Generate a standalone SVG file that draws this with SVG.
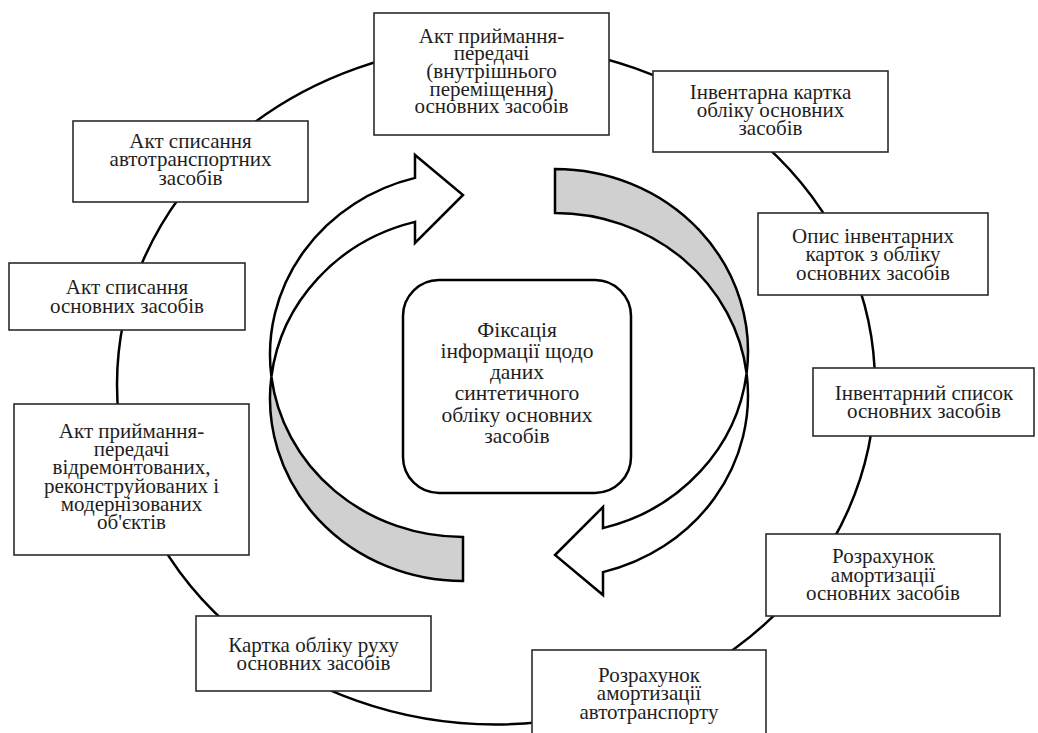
<svg xmlns="http://www.w3.org/2000/svg" width="1038" height="733" viewBox="0 0 1038 733">
<style>
.box{fill:#fff;stroke:#2b2b2b;stroke-width:1.6}
.t{font-family:'Liberation Serif','Times New Roman',serif;font-size:21px;fill:#1e1e1e;text-anchor:middle}
.tc{font-family:'Liberation Serif','Times New Roman',serif;font-size:21.5px;fill:#1e1e1e;text-anchor:middle}
.ring{fill:none;stroke:#000;stroke-width:2.5}
.arrW{fill:#fff;stroke:#000;stroke-width:2.5;stroke-linejoin:miter}
.arrG{fill:#d0d0d0;stroke:#000;stroke-width:2.5;stroke-linejoin:miter}
</style>
<rect width="1038" height="733" fill="#fff"/>
<g id="connectors">
<ellipse class="ring" cx="496" cy="384.5" rx="379" ry="340"/>
</g>
<g id="arrows">
<g id="arrow-right">
<path class="arrG" d="M555,169 A193,182.4 0 0 1 746.6,373.4 A193,182.4 0 0 0 555,213 Z"/>
<path class="arrW" d="M746.6,373.4 A193,182.4 0 0 1 603,528.1 L603,507 L555,555 L603,595 L603,572.1 A193,182.4 0 0 0 746.6,373.4 Z"/>
</g>
<g id="arrow-left" transform="rotate(180 509 375)">
<path class="arrG" d="M555,169 A193,182.4 0 0 1 746.6,373.4 A193,182.4 0 0 0 555,213 Z"/>
<path class="arrW" d="M746.6,373.4 A193,182.4 0 0 1 603,528.1 L603,507 L555,555 L603,595 L603,572.1 A193,182.4 0 0 0 746.6,373.4 Z"/>
</g>
</g>
<g id="center">
<rect x="403" y="280" width="228" height="213" rx="36" ry="36" fill="#fff" stroke="#000" stroke-width="2.5"/>
<text class="tc"><tspan x="517" y="336.5">Фіксація</tspan><tspan x="517" y="357.8">інформації щодо</tspan><tspan x="517" y="379.1">даних</tspan><tspan x="517" y="400.4">синтетичного</tspan><tspan x="517" y="421.7">обліку основних</tspan><tspan x="517" y="443">засобів</tspan></text>
</g>
<g id="n-top">
<rect class="box" x="374" y="13" width="235" height="122"/>
<text class="t"><tspan x="491.5" y="42.7">Акт приймання-</tspan><tspan x="491.5" y="60.3">передачі</tspan><tspan x="491.5" y="78">(внутрішнього</tspan><tspan x="491.5" y="95.6">переміщення)</tspan><tspan x="491.5" y="113.3">основних засобів</tspan></text>
</g>
<g id="n-card">
<rect class="box" x="653" y="71" width="235" height="81"/>
<text class="t"><tspan x="770.5" y="99.3">Інвентарна картка</tspan><tspan x="770.5" y="117.2">обліку основних</tspan><tspan x="770.5" y="135">засобів</tspan></text>
</g>
<g id="n-opys">
<rect class="box" x="758" y="213" width="230" height="82"/>
<text class="t"><tspan x="873" y="242.7">Опис інвентарних</tspan><tspan x="873" y="261.2">карток з обліку</tspan><tspan x="873" y="279.7">основних засобів</tspan></text>
</g>
<g id="n-spysok">
<rect class="box" x="813" y="368" width="221" height="68"/>
<text class="t"><tspan x="924" y="400">Інвентарний список</tspan><tspan x="924" y="418.3">основних засобів</tspan></text>
</g>
<g id="n-amort">
<rect class="box" x="766" y="534" width="234" height="82"/>
<text class="t"><tspan x="883" y="563.3">Розрахунок</tspan><tspan x="883" y="581.5">амортизації</tspan><tspan x="883" y="599.8">основних засобів</tspan></text>
</g>
<g id="n-amort-auto">
<rect class="box" x="532" y="650" width="234" height="95"/>
<text class="t"><tspan x="649" y="681.7">Розрахунок</tspan><tspan x="649" y="700.3">амортизації</tspan><tspan x="649" y="719">автотранспорту</tspan></text>
</g>
<g id="n-rukh">
<rect class="box" x="196" y="616" width="235" height="75"/>
<text class="t"><tspan x="313.5" y="651.7">Картка обліку руху</tspan><tspan x="313.5" y="669.5">основних засобів</tspan></text>
</g>
<g id="n-remont">
<rect class="box" x="14" y="404" width="235" height="151"/>
<text class="t"><tspan x="131.5" y="437.7">Акт приймання-</tspan><tspan x="131.5" y="456">передачі</tspan><tspan x="131.5" y="474.3">відремонтованих,</tspan><tspan x="131.5" y="492.6">реконструйованих і</tspan><tspan x="131.5" y="510.9">модернізованих</tspan><tspan x="131.5" y="529.2">об'єктів</tspan></text>
</g>
<g id="n-spys-os">
<rect class="box" x="9" y="263" width="236" height="67"/>
<text class="t"><tspan x="127" y="294.3">Акт списання</tspan><tspan x="127" y="312.7">основних засобів</tspan></text>
</g>
<g id="n-spys-auto">
<rect class="box" x="73" y="121" width="235" height="81"/>
<text class="t"><tspan x="190.5" y="147.7">Акт списання</tspan><tspan x="190.5" y="166.2">автотранспортних</tspan><tspan x="190.5" y="184.7">засобів</tspan></text>
</g>
</svg>
